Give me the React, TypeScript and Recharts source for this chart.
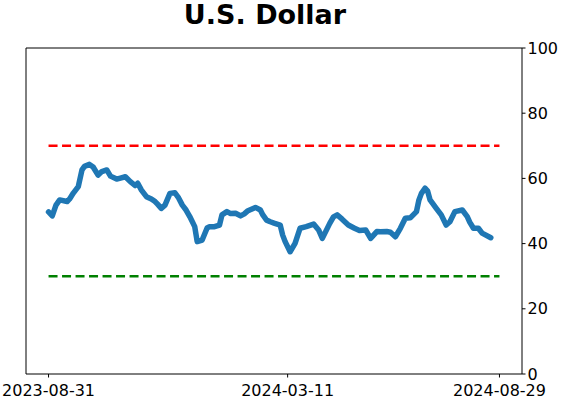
import { LineChart, Line, XAxis, YAxis, ReferenceLine, ReferenceArea } from "recharts";

// days since 2023-08-31 and the indicator value
const dayOffsets = [
  0, 3, 6, 9, 15, 17, 20, 24, 27, 29, 33, 36, 40, 43, 47, 50, 55, 58, 62, 66,
  70, 72, 75, 79, 83, 86, 88, 91, 94, 98, 102, 105, 108, 111, 114, 118, 120, 124, 128, 130,
  134, 138, 140, 144, 147, 151, 155, 158, 161, 167, 171, 173, 176, 179, 182, 187, 189, 191, 195, 199,
  203, 208, 214, 218, 221, 224, 227, 230, 233, 237, 242, 247, 251, 256, 260, 265, 268, 273, 276, 280,
  284, 288, 292, 297, 299, 301, 304, 306, 308, 313, 317, 321, 324, 328, 334, 338, 340, 343, 347, 350, 357,
];
const values = [
  49.7, 48.5, 51.8, 53.4, 52.9, 53.7, 55.5, 57.5, 62.6, 63.7, 64.3, 63.5, 61.0, 62.1, 62.6, 60.7, 59.8, 60.1, 60.5, 59.0,
  57.8, 58.5, 56.4, 54.4, 53.7, 52.9, 52.1, 50.8, 51.8, 55.4, 55.6, 54.0, 51.8, 50.3, 48.3, 45.2, 40.6, 41.1, 44.8, 45.2,
  45.2, 45.7, 48.8, 49.8, 49.2, 49.3, 48.5, 49.1, 50.1, 51.1, 50.3, 48.8, 47.2, 46.7, 46.3, 45.7, 42.6, 40.6, 37.5, 40.1,
  44.7, 45.2, 46.0, 44.2, 41.6, 43.9, 46.2, 48.2, 48.8, 47.5, 45.7, 44.7, 44.0, 44.2, 41.6, 43.7, 43.6, 43.7, 43.5, 42.1,
  44.7, 47.8, 47.9, 49.8, 53.4, 55.4, 57.0, 56.1, 53.4, 50.8, 48.8, 45.7, 46.7, 49.8, 50.3, 48.3, 46.6, 44.7, 44.7, 43.2, 41.8,
];

const startDate = "2023-08-31";
const tickLabels = ["2023-08-31", "2024-03-11", "2024-08-29"];
const yTicks = [0, 20, 40, 60, 80, 100];
const upperBand = 70;
const lowerBand = 30;

const DAY = 86400000;
const dayOf = (s: string) => Math.round((Date.parse(s) - Date.parse(startDate)) / DAY);
const xTicks = tickLabels.map(dayOf);
const lastDay = xTicks[xTicks.length - 1];
const pad = lastDay * 0.05;

const data = dayOffsets.map((d, i) => ({ day: d, value: values[i] }));

const font = "'DejaVu Sans', sans-serif";
const tickStyle = { fill: "#000", fontSize: 16, fontFamily: font };

export default function App() {
  return (
    <div style={{ position: "absolute", left: 0, top: 0, width: 562, height: 402, background: "#fff" }}>
      <div
        style={{
          position: "absolute",
          left: 265,
          top: -1,
          transform: "translateX(-50%)",
          fontFamily: font,
          fontWeight: "bold",
          fontSize: 27,
          whiteSpace: "nowrap",
          color: "#000",
        }}
      >
        U.S. Dollar
      </div>
      <LineChart width={562} height={402} data={data} margin={{ top: 48, right: 0, bottom: 0, left: 26 }}>
        <XAxis
          dataKey="day"
          type="number"
          domain={[-pad, lastDay + pad]}
          allowDataOverflow
          ticks={xTicks}
          tickFormatter={(v) => tickLabels[xTicks.indexOf(v)] ?? ""}
          tick={tickStyle}
          tickSize={3.5}
          tickMargin={7}
          tickLine={{ stroke: "#000" }}
          axisLine={false}
          height={28}
          interval={0}
        />
        <YAxis
          orientation="right"
          type="number"
          domain={[0, 100]}
          ticks={yTicks}
          tick={tickStyle}
          tickSize={3.5}
          tickMargin={2}
          tickLine={{ stroke: "#000" }}
          axisLine={false}
          width={40}
          interval={0}
        />
        <ReferenceArea
          x1={-pad}
          x2={lastDay + pad}
          y1={0}
          y2={100}
          fill="none"
          fillOpacity={0}
          stroke="#000"
          strokeWidth={1}
        />
        <ReferenceLine
          segment={[{ x: 0, y: upperBand }, { x: lastDay, y: upperBand }]}
          stroke="#ff0000"
          strokeWidth={2.5}
          strokeDasharray="9 4.5"
        />
        <ReferenceLine
          segment={[{ x: 0, y: lowerBand }, { x: lastDay, y: lowerBand }]}
          stroke="#008000"
          strokeWidth={2.5}
          strokeDasharray="9 4.5"
        />
        <Line
          dataKey="value"
          type="linear"
          stroke="#1f77b4"
          strokeWidth={5.5}
          strokeLinejoin="round"
          strokeLinecap="round"
          dot={false}
          activeDot={false}
          isAnimationActive={false}
        />
      </LineChart>
    </div>
  );
}
